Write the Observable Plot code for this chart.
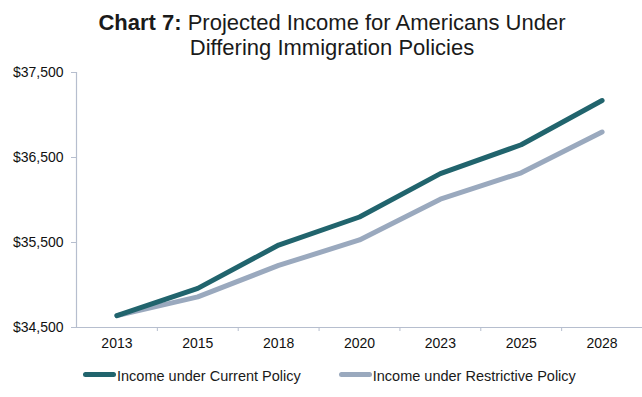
<!DOCTYPE html>
<html>
<head>
<meta charset="utf-8">
<script src="https://cdn.jsdelivr.net/npm/d3@7"></script>
<script src="https://cdn.jsdelivr.net/npm/@observablehq/plot@0.6"></script>
<style>
  html, body { margin: 0; padding: 0; background: #fff; }
  body { width: 642px; height: 397px; position: relative; overflow: hidden; font-family: "Liberation Sans", Arial, sans-serif; color: #111; }
  #title { box-sizing: border-box; height: 62px; padding-top: 10px; padding-left: 22px; width: 642px; text-align: center; font-size: 22px; line-height: 25px; color: #1a1a1a; }
  #title b { font-weight: bold; }
  #chart svg { display: block; }
  #legend { position: absolute; left: 83px; top: 366px; height: 20px; display: flex; align-items: center; font-size: 14.5px; color: #1a1a1a; }
  .item { display: flex; align-items: center; }
  .sw { width: 33px; height: 5px; border-radius: 3px; margin-right: 1px; position: relative; top: -2px; }
</style>
</head>
<body>
<div id="title"><b>Chart 7:</b> Projected Income for Americans Under<br>Differing Immigration Policies</div>
<div id="chart"></div>
<div id="legend"></div>
<script>
const years = ["2013", "2015", "2018", "2020", "2023", "2025", "2028"];
const currentPolicy = [34640, 34960, 35470, 35800, 36310, 36650, 37170];
const restrictivePolicy = [34640, 34860, 35230, 35530, 36010, 36320, 36800];
const seriesNames = ["Income under Current Policy", "Income under Restrictive Policy"];
const seriesColors = ["#21646d", "#9aa9be"];
const yTicks = [34500, 35500, 36500, 37500];

const axisColor = "#b6bece";

const rows = [];
years.forEach((y, i) => {
  rows.push({i, year: y, value: currentPolicy[i], series: seriesNames[0]});
  rows.push({i, year: y, value: restrictivePolicy[i], series: seriesNames[1]});
});

const n = years.length;
const boundaries = d3.range(n - 1).map(i => i + 0.5);
const fmt = d3.format(",");

const chart = Plot.plot({
  width: 642,
  height: 295,
  marginTop: 10,
  marginBottom: 30,
  marginLeft: 76,
  marginRight: 0,
  style: {fontFamily: "'Liberation Sans', Arial, sans-serif", fontSize: "14px", color: "#111", background: "#fff"},
  x: {type: "linear", domain: [-0.5, n - 0.5], axis: null},
  y: {domain: [yTicks[0], yTicks[yTicks.length - 1]], axis: null},
  color: {domain: seriesNames, range: seriesColors},
  marks: [
    Plot.ruleX([-0.5], {stroke: axisColor, strokeWidth: 1.2}),
    Plot.ruleY([yTicks[0]], {stroke: axisColor, strokeWidth: 1.2}),
    Plot.axisY({ticks: yTicks, tickFormat: d => "$" + fmt(d), tickSize: 5, tickPadding: 8, stroke: axisColor, fill: "#111", fontSize: 14, label: null}),
    Plot.axisX({ticks: boundaries, tickFormat: () => "", tickSize: 4, stroke: axisColor, label: null}),
    Plot.axisX({ticks: d3.range(n), tickFormat: i => years[i], tickSize: 0, tickPadding: 11, fill: "#111", fontSize: 14, label: null}),
    Plot.line(rows.filter(d => d.series === seriesNames[1]), {x: "i", y: "value", stroke: seriesColors[1], strokeWidth: 5, strokeLinecap: "round", strokeLinejoin: "round"}),
    Plot.line(rows.filter(d => d.series === seriesNames[0]), {x: "i", y: "value", stroke: seriesColors[0], strokeWidth: 5, strokeLinecap: "round", strokeLinejoin: "round"})
  ]
});
document.getElementById("chart").appendChild(chart);

const legend = document.getElementById("legend");
seriesNames.forEach((name, k) => {
  const item = document.createElement("div");
  item.className = "item";
  if (k > 0) item.style.marginLeft = "38px";
  const sw = document.createElement("span");
  sw.className = "sw";
  sw.style.background = seriesColors[k];
  const t = document.createElement("span");
  t.textContent = name;
  item.appendChild(sw);
  item.appendChild(t);
  legend.appendChild(item);
});
</script>
</body>
</html>
